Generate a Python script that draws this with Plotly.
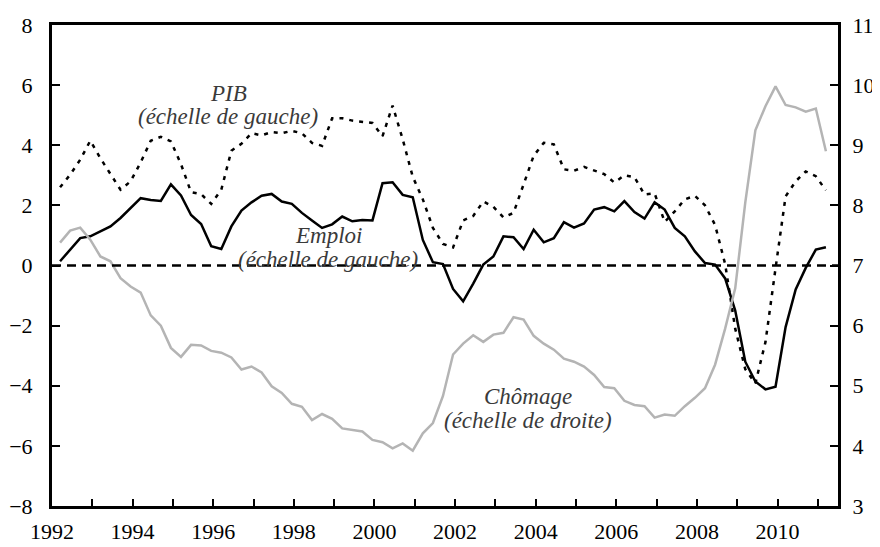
import plotly.graph_objects as go

# quarterly data, 1992Q1 .. 2011Q1
start_year = 1992

pib = [2.6, 3.02, 3.52, 4.15, 3.57, 3.05, 2.52, 2.8, 3.43, 4.15, 4.28, 4.13,
       3.37, 2.44, 2.37, 2.05, 2.52, 3.82, 4.05, 4.4, 4.33, 4.44, 4.4, 4.48,
       4.4, 4.08, 3.98, 4.9, 4.9, 4.82, 4.77, 4.74, 4.3, 5.32, 4.2, 2.95,
       2.2, 1.25, 0.72, 0.6, 1.5, 1.65, 2.13, 1.95, 1.6, 1.75, 2.7, 3.65,
       4.08, 4.03, 3.2, 3.15, 3.28, 3.16, 3.04, 2.76, 3.0, 2.94, 2.36, 2.4,
       1.45, 1.8, 2.2, 2.32, 2.0, 1.35, 0.05, -2.1, -3.45, -3.92, -2.55, -0.1,
       2.3, 2.8, 3.13, 2.97, 2.5]

emploi = [0.14, 0.53, 0.91, 0.97, 1.14, 1.3, 1.58, 1.91, 2.24, 2.18, 2.15, 2.7,
          2.33, 1.68, 1.38, 0.64, 0.55, 1.3, 1.83, 2.1, 2.32, 2.38, 2.13, 2.05,
          1.75, 1.5, 1.25, 1.37, 1.63, 1.47, 1.51, 1.5, 2.74, 2.77, 2.35, 2.27,
          0.85, 0.11, 0.05, -0.78, -1.19, -0.6, 0.03, 0.3, 0.97, 0.94, 0.55, 1.19,
          0.77, 0.91, 1.44, 1.26, 1.4, 1.86, 1.94, 1.8, 2.14, 1.78, 1.56, 2.1,
          1.86, 1.25, 0.97, 0.47, 0.08, 0.03, -0.43, -1.5, -3.2, -3.86, -4.12, -4.03,
          -2.05, -0.8, -0.08, 0.53, 0.61]

chomage = [7.38, 7.58, 7.63, 7.43, 7.15, 7.07, 6.79, 6.65, 6.55, 6.17, 6.0, 5.63,
           5.48, 5.68, 5.67, 5.58, 5.55, 5.47, 5.27, 5.32, 5.22, 4.99, 4.88, 4.7,
           4.65, 4.43, 4.53, 4.45, 4.29, 4.26, 4.24, 4.1, 4.06, 3.96, 4.04, 3.92,
           4.21, 4.38, 4.83, 5.52, 5.7, 5.84, 5.73, 5.85, 5.88, 6.14, 6.1, 5.83,
           5.7, 5.6, 5.45, 5.4, 5.32, 5.18, 4.98, 4.96, 4.75, 4.68, 4.66, 4.47,
           4.52, 4.5, 4.66, 4.8, 4.96, 5.35, 5.95, 6.62, 8.05, 9.25, 9.65, 9.98,
           9.67, 9.63, 9.56, 9.61, 8.9]

years = list(range(1992, 2012))
year_labels = [str(y) if y % 2 == 0 else "" for y in years]

# position of each quarter on the year axis
x = [start_year + 0.2 + 0.25 * k for k in range(len(emploi))]

FONT = "Liberation Serif, Times New Roman, serif"
TEXT_COLOR = "#3a3a3a"

fig = go.Figure()

fig.add_trace(go.Scatter(
    x=x, y=chomage, yaxis="y2", mode="lines",
    line=dict(color="#b4b4b4", width=2.5), name="Chômage",
))
fig.add_trace(go.Scatter(
    x=x, y=pib, mode="lines",
    line=dict(color="black", width=2.5, dash="4px,6px"), name="PIB",
))
fig.add_trace(go.Scatter(
    x=x, y=emploi, mode="lines",
    line=dict(color="black", width=2.5), name="Emploi",
))

# zero line
fig.add_shape(type="line", xref="x domain", yref="y", x0=0, x1=1, y0=0, y1=0,
              line=dict(color="black", width=2.5, dash="9px,6px"), layer="above")

labels = [
    ("PIB", 1996.37, 5.71),
    ("(échelle de gauche)", 1996.37, 4.97),
    ("Emploi", 1998.85, 1.01),
    ("(échelle de gauche)", 1998.85, 0.2),
    ("Chômage", 2003.81, -4.37),
    ("(échelle de droite)", 2003.81, -5.14),
]
for txt, ax, ay in labels:
    fig.add_annotation(x=ax, y=ay, xref="x", yref="y", text=f"<i>{txt}</i>",
                       showarrow=False, font=dict(family=FONT, size=23, color=TEXT_COLOR))

fig.update_layout(
    width=880, height=547,
    margin=dict(l=44, r=50, t=17, b=49),
    paper_bgcolor="white", plot_bgcolor="white",
    showlegend=False,
    font=dict(family=FONT, size=22, color="black"),
    xaxis=dict(
        range=[1992, 2011.5], tickvals=years, ticktext=year_labels,
        ticks="inside", ticklen=7, tickwidth=2, tickcolor="black",
        showline=True, linecolor="black", linewidth=2.5, mirror=True,
        showgrid=False, zeroline=False, ticklabelstandoff=4, automargin=False,
    ),
    yaxis=dict(
        range=[-8, 8], dtick=2, ticks="inside", ticklen=8, tickwidth=2,
        tickcolor="black", showline=True, linecolor="black", linewidth=3,
        showgrid=False, zeroline=False, ticklabelstandoff=12, automargin=False,
    ),
    yaxis2=dict(
        range=[3, 11], dtick=1, overlaying="y", side="right",
        ticks="inside", ticklen=8, tickwidth=2, tickcolor="black",
        showline=True, linecolor="black", linewidth=3,
        showgrid=False, zeroline=False, ticklabelstandoff=7, automargin=False,
    ),
)

fig.write_html("out.html")
